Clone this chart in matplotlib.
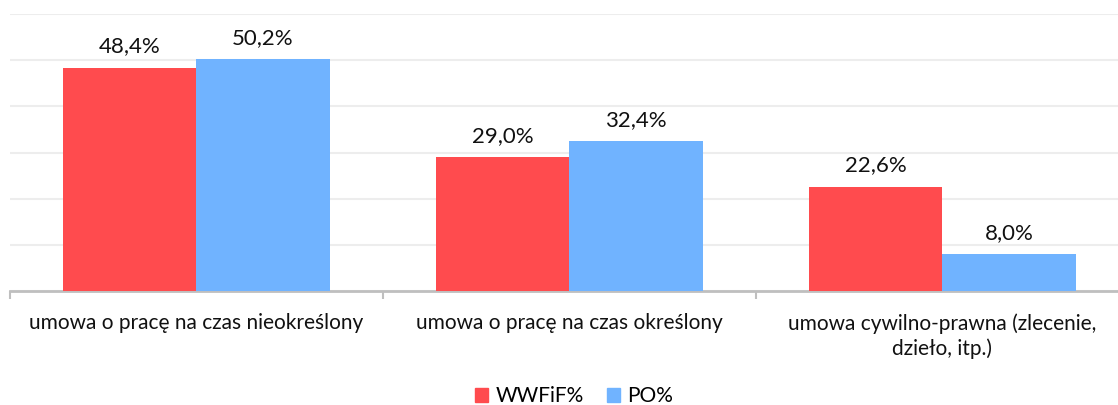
import numpy as np
import matplotlib as mpl
mpl.use("Agg")
from matplotlib import pyplot as plt
from matplotlib.patches import Patch

# data
categories = ["umowa o pracę na czas nieokreślony",
              "umowa o pracę na czas określony",
              "umowa cywilno-prawna (zlecenie,\ndzieło, itp.)"]
wwfif = [48.4, 29.0, 22.6]
po = [50.2, 32.4, 8.0]
series_names = ["WWFiF%", "PO%"]

red = '#FF4B4E'
blue = '#70B3FF'
grid_color = '#EDEDED'
axis_color = '#BFBFBF'

plt.rcParams['font.family'] = ['Lato', 'DejaVu Sans']

W, H = 1118, 405
fig = plt.figure(figsize=(W / 100, H / 100), dpi=100)
# axes runs past the right edge, like the cropped original
ax = fig.add_axes([10 / W, (H - 291) / H, 1119 / W, 277 / H])

x = np.arange(len(categories))
bw = 0.357
b1 = ax.bar(x - bw / 2, wwfif, bw, color=red, zorder=3)
b2 = ax.bar(x + bw / 2, po, bw, color=blue, zorder=3)

for bars, vals in [(b1, wwfif), (b2, po)]:
    for rect, v in zip(bars, vals):
        ax.annotate(f"{v:.1f}%".replace('.', ','),
                    (rect.get_x() + rect.get_width() / 2, rect.get_height()),
                    xytext=(0, 8), textcoords='offset points',
                    ha='center', va='bottom', fontsize=16, color='#111111')

ax.set_xlim(-0.5, 2.5)
ax.set_ylim(0, 60)
ax.set_yticks(np.arange(0, 61, 10))
ax.yaxis.grid(True, color=grid_color, linewidth=1.5, zorder=0)
ax.tick_params(axis='y', length=0, labelleft=False)

ax.set_xticks([-0.5, 0.5, 1.5, 2.5])
ax.set_xticklabels([])
ax.set_xticks(x, minor=True)
ax.set_xticklabels(categories, minor=True, fontsize=15, color='#111111',
                   linespacing=1.25)
ax.tick_params(axis='x', which='major', length=6, width=1.5, color=axis_color)
ax.tick_params(axis='x', which='minor', length=0, pad=16)

for s in ['top', 'right', 'left']:
    ax.spines[s].set_visible(False)
ax.spines['bottom'].set_color(axis_color)
ax.spines['bottom'].set_linewidth(2)

handles = [Patch(color=red), Patch(color=blue)]
fig.legend(handles, series_names, loc='center', bbox_to_anchor=(574 / W, 1 - 396 / H),
           ncol=2, frameon=False, fontsize=15, handlelength=0.65, handleheight=0.65,
           handletextpad=0.35, columnspacing=1.1)

fig.savefig("out.png", dpi=100)
